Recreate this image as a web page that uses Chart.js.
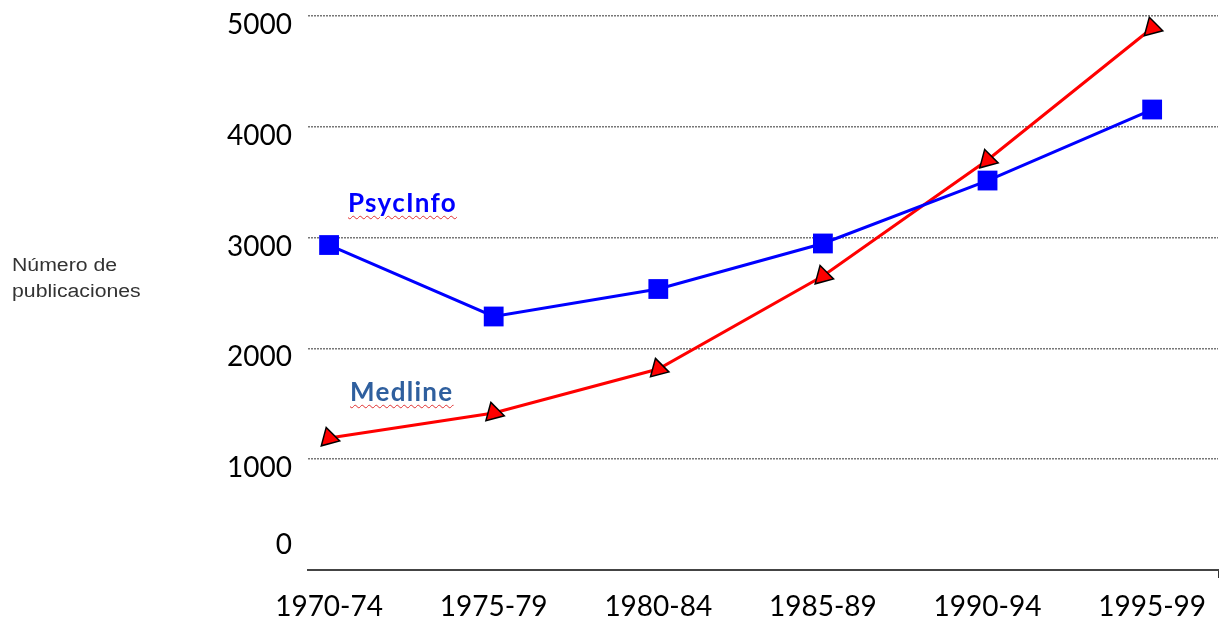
<!DOCTYPE html>
<html>
<head>
<meta charset="utf-8">
<script src="https://cdn.jsdelivr.net/npm/chart.js@4/dist/chart.umd.min.js"></script>
<style>
  html, body { margin: 0; padding: 0; background: #fff; }
  #wrap { position: relative; width: 1219px; height: 621px; }
  .ytitle {
    position: absolute; left: 12px; top: 252px;
    font: 18px "Liberation Sans", Arial, sans-serif; line-height: 26px; color: #333;
    transform: scaleX(1.18); transform-origin: left top;
  }
  .serie {
    position: absolute; font: bold 26px Lato, sans-serif; letter-spacing: 1.3px;
    text-decoration: underline wavy #e03030; text-decoration-thickness: 1px;
    text-underline-offset: 3px;
  }
</style>
</head>
<body>
<div id="wrap">
  <canvas id="chart" width="1219" height="621"></canvas>
  <div class="ytitle">Número de<br>publicaciones</div>
  <div class="serie" style="left:348px; top:186px; color:#0000ff;">PsycInfo</div>
  <div class="serie" style="left:350px; top:375px; color:#2f5f9e;">Medline</div>
</div>
<script>
// datos
let periodos = ["1970-74", "1975-79", "1980-84", "1985-89", "1990-94", "1995-99"];
let psycinfo = [2933, 2288, 2536, 2947, 3515, 4156];
let medline = [1191, 1417, 1814, 2653, 3700, 4892];
let ticksY = [0, 1000, 2000, 3000, 4000, 5000];

let xMin = -0.128, xMax = 5.4;

let psy = {
  label: 'PsycInfo',
  data: psycinfo.map((v, i) => ({x: i, y: v})),
  borderColor: '#0000ff',
  backgroundColor: '#0000ff',
  borderWidth: 3,
  pointStyle: 'rect',
  pointRadius: 14,
  pointBorderWidth: 0,
  tension: 0,
  order: 0
}

let med = {
  label: 'Medline',
  data: medline.map((v, i) => ({x: i, y: v})),
  borderColor: '#ff0000',
  backgroundColor: '#ff0000',
  borderWidth: 3,
  pointStyle: 'triangle',
  pointRadius: 11,
  pointRotation: -15,
  pointBorderColor: '#000',
  pointBorderWidth: 1.5,
  tension: 0,
  order: 1
}

let ctx = document.getElementById("chart").getContext("2d");
let chart = new Chart(ctx, {
  type: "line",
  data: { datasets: [psy, med] },
  options: {
    responsive: false,
    animation: false,
    layout: { autoPadding: false, padding: { top: 16, right: 1, left: 0, bottom: 0 } },
    plugins: { legend: { display: false }, tooltip: { enabled: false } },
    scales: {
      x: {
        type: 'linear',
        min: xMin,
        max: xMax,
        afterBuildTicks: s => { s.ticks = periodos.map((p, i) => ({value: i})).concat([{value: xMax}]); },
        afterFit: s => { s.height = 51; s.paddingLeft = 0; s.paddingRight = 0; },
        ticks: {
          autoSkip: false, maxRotation: 0, padding: 0,
          color: '#000', font: { family: 'Lato', size: 28, lineHeight: 2.1 },
          callback: v => periodos[v] || ''
        },
        grid: {
          drawOnChartArea: false, drawTicks: true, tickLength: 8,
          color: c => (c.tick && c.tick.value === xMax) ? '#333' : 'rgba(0,0,0,0)'
        },
        border: { display: true, color: '#444', width: 2 }
      },
      y: {
        min: 0,
        max: 5000,
        afterBuildTicks: s => { s.ticks = ticksY.map(v => ({value: v})); },
        afterFit: s => { s.width = 308; s.paddingTop = 0; s.paddingBottom = 0; },
        ticks: {
          autoSkip: false, padding: 16, labelOffset: 9,
          color: '#000', font: { family: 'Lato', size: 28 },
          callback: v => v === 0 ? ['0', '', ''] : String(v)
        },
        grid: {
          drawTicks: false, lineWidth: 1.5,
          color: c => (c.tick && c.tick.value === 0) ? 'rgba(0,0,0,0)' : '#777'
        },
        border: { display: false, dash: [2, 1] }
      }
    }
  }
});
</script>
</body>
</html>
